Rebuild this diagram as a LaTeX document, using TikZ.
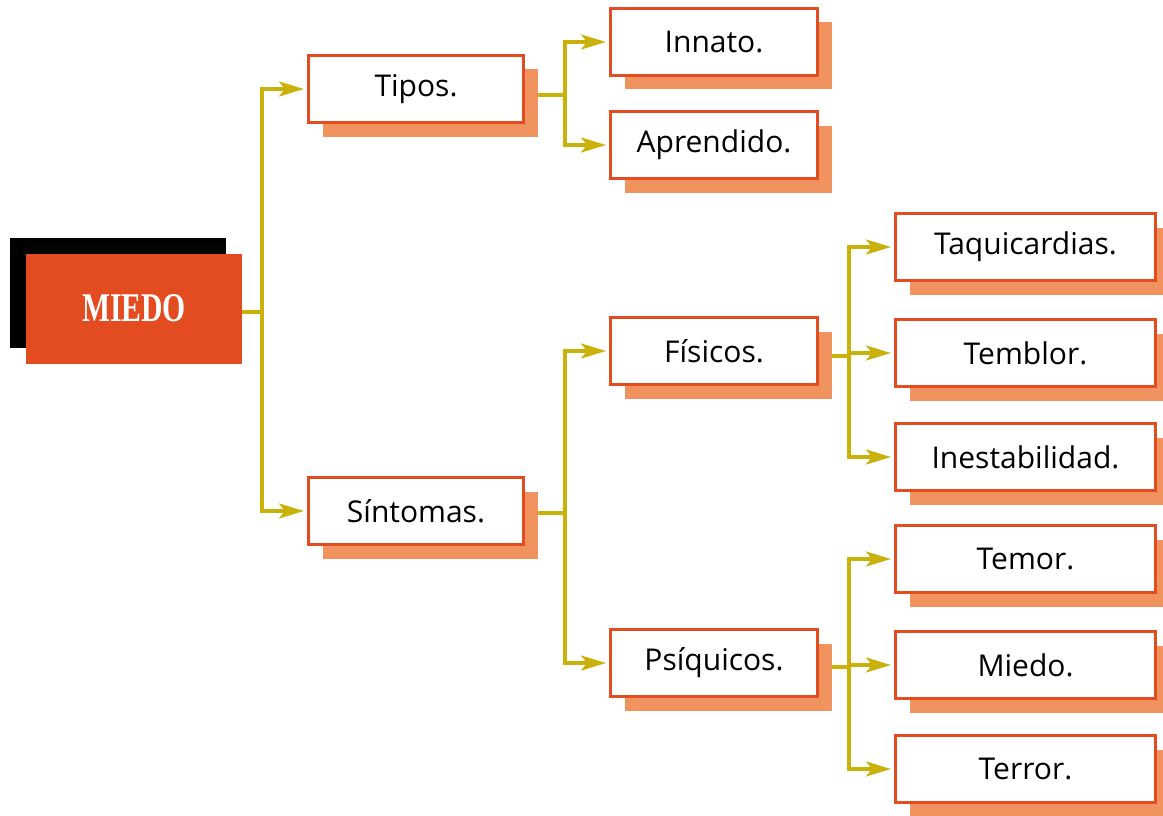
\documentclass[tikz,border=0pt]{standalone}
\usepackage{fontspec}
\usepackage{graphicx}
\setmainfont{Open Sans}
\newfontfamily\titlefont{Liberation Serif}
\usetikzlibrary{arrows.meta,shadows,backgrounds}

\definecolor{boxred}{HTML}{E34B21}
\definecolor{shade}{HTML}{F1935F}
\definecolor{linkolive}{HTML}{C9B10A}

\tikzset{
  box/.style={draw=boxred, line width=3pt, fill=white, inner sep=0pt,
    minimum height=67pt, font=\fontsize{30}{32}\selectfont,
    general shadow={shadow xshift=14pt, shadow yshift=-14pt, fill=shade}},
  midbox/.style={box, minimum width=215pt},
  leafbox/.style={box, minimum width=207pt},
  rightbox/.style={box, minimum width=260pt},
  rootbox/.style={fill=boxred, inner sep=0pt, minimum width=216pt, minimum height=110pt,
    text=white,
    general shadow={shadow xshift=-16pt, shadow yshift=16pt, fill=black}},
  conn/.style={draw=linkolive, line width=3.2pt},
  arr/.style={conn, -{Stealth[length=25pt,width=15pt,inset=6pt]}, shorten >=3pt},
}

\begin{document}
\begin{tikzpicture}[x=1pt,y=-1pt]
\useasboundingbox (0,0) rectangle (1163,816);

% root
\node[rootbox] (miedo) at (134,309)
  {\raisebox{2pt}{\resizebox{104pt}{27pt}{\titlefont\bfseries MIEDO}}};

% second level
\node[midbox] (tipos) at (416,89) {Tipos.};
\node[midbox] (sintomas) at (416,511) {Síntomas.};

% third level
\node[leafbox] (innato) at (714,42) {Innato.};
\node[leafbox] (aprendido) at (714,145) {Aprendido.};
\node[leafbox] (fisicos) at (714,351) {Físicos.};
\node[leafbox] (psiquicos) at (714,663) {Psíquicos.};

% fourth level
\node[rightbox] (taqui) at (1025.5,247) {Taquicardias.};
\node[rightbox] (temblor) at (1025.5,353) {Temblor.};
\node[rightbox] (inest) at (1025.5,457) {Inestabilidad.};
\node[rightbox] (temor) at (1025.5,559) {Temor.};
\node[rightbox] (miedo2) at (1025.5,665) {Miedo.};
\node[rightbox] (terror) at (1025.5,769) {Terror.};

% junction points of the brackets
\coordinate (j0) at (262,312);
\coordinate (j1) at (565,95);
\coordinate (j2) at (565,513);
\coordinate (j3) at (849,356);
\coordinate (j4) at (849,667);

\begin{scope}[on background layer]
  \draw[conn] (miedo.east |- j0) -- (j0);
  \draw[arr] (j0) |- (tipos.west);
  \draw[arr] (j0) |- (sintomas.west);

  \draw[conn] (tipos.east |- j1) -- (j1);
  \draw[arr] (j1) |- (innato.west);
  \draw[arr] (j1) |- (aprendido.west);

  \draw[conn] (sintomas.east |- j2) -- (j2);
  \draw[arr] (j2) |- (fisicos.west);
  \draw[arr] (j2) |- (psiquicos.west);

  \draw[conn] (fisicos.east |- j3) -- (j3);
  \draw[arr] (j3) |- (taqui.west);
  \draw[arr] (j3) |- (temblor.west);
  \draw[arr] (j3) |- (inest.west);

  \draw[conn] (psiquicos.east |- j4) -- (j4);
  \draw[arr] (j4) |- (temor.west);
  \draw[arr] (j4) |- (miedo2.west);
  \draw[arr] (j4) |- (terror.west);
\end{scope}
\end{tikzpicture}
\end{document}
